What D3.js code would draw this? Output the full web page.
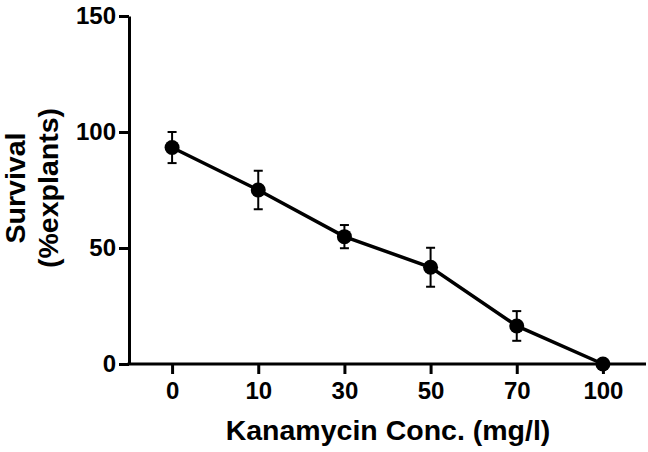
<!DOCTYPE html>
<html>
<head>
<meta charset="utf-8">
<script src="https://cdn.jsdelivr.net/npm/d3@7"></script>
<style>
  html, body { margin: 0; padding: 0; background: #fff; }
  svg text { font-family: "Liberation Sans", Arial, sans-serif; font-weight: bold; fill: #000; }
</style>
</head>
<body>
<svg id="chart" width="648" height="452"></svg>
<script>
const categories = ["0", "10", "30", "50", "70", "100"];
const survival = [93.3, 75.0, 54.9, 41.7, 16.4, 0];
const sem = [6.7, 8.3, 5.0, 8.4, 6.4, 0];
const yTicks = [0, 50, 100, 150];
const xTitle = "Kanamycin Conc. (mg/l)";
const yTitle = ["Survival", "(%explants)"];

const svg = d3.select("#chart");
const x = d3.scalePoint().domain(categories).range([129, 646]).padding(0.5);
const y = d3.scaleLinear().domain([0, 150]).range([364, 16]);

// Y axis
const yAxis = svg.append("g").attr("transform", "translate(129,0)")
  .call(d3.axisLeft(y).tickValues(yTicks).tickSize(10).tickPadding(3).tickSizeOuter(0));
yAxis.select(".domain").attr("stroke", "#000").attr("stroke-width", 3);
yAxis.selectAll(".tick line").attr("stroke", "#000").attr("stroke-width", 3);
yAxis.selectAll(".tick text").attr("font-size", 24).attr("font-family", "Liberation Sans, Arial, sans-serif").attr("font-weight", "bold").attr("fill", "#000");

// X axis
const xAxis = svg.append("g").attr("transform", "translate(0,364)")
  .call(d3.axisBottom(x).tickSize(10).tickPadding(8).tickSizeOuter(0));
xAxis.select(".domain").attr("stroke", "#000").attr("stroke-width", 3)
  .attr("d", "M127.5,0H646");
xAxis.selectAll(".tick line").attr("stroke", "#000").attr("stroke-width", 3);
xAxis.selectAll(".tick text").attr("font-size", 24).attr("font-family", "Liberation Sans, Arial, sans-serif").attr("font-weight", "bold").attr("fill", "#000");

// Axis titles
svg.append("text").attr("x", 388).attr("y", 440).attr("text-anchor", "middle")
  .attr("font-size", 28.5).text(xTitle);
const yt = svg.append("text").attr("transform", "translate(25,188) rotate(-90)")
  .attr("text-anchor", "middle").attr("font-size", 28.5);
yt.append("tspan").attr("x", 0).attr("y", 0).text(yTitle[0]);
yt.append("tspan").attr("x", 0).attr("y", 33).text(yTitle[1]);

const data = categories.map((c, i) => ({ c, v: survival[i], e: sem[i] }));

// Line
svg.append("path").datum(data)
  .attr("fill", "none").attr("stroke", "#000").attr("stroke-width", 3.5)
  .attr("d", d3.line().x(d => x(d.c)).y(d => y(d.v)));

// Error bars
const eb = svg.append("g").attr("stroke", "#000").attr("stroke-width", 2).attr("fill", "none");
data.filter(d => d.e > 0).forEach(d => {
  const cx = x(d.c);
  eb.append("line").attr("x1", cx).attr("x2", cx).attr("y1", y(d.v + d.e)).attr("y2", y(d.v - d.e));
  eb.append("line").attr("x1", cx - 4.5).attr("x2", cx + 4.5).attr("y1", y(d.v + d.e)).attr("y2", y(d.v + d.e));
  eb.append("line").attr("x1", cx - 4.5).attr("x2", cx + 4.5).attr("y1", y(d.v - d.e)).attr("y2", y(d.v - d.e));
});

// Points
svg.append("g").selectAll("circle").data(data).join("circle")
  .attr("cx", d => x(d.c)).attr("cy", d => y(d.v)).attr("r", 7.5).attr("fill", "#000");
</script>
</body>
</html>
